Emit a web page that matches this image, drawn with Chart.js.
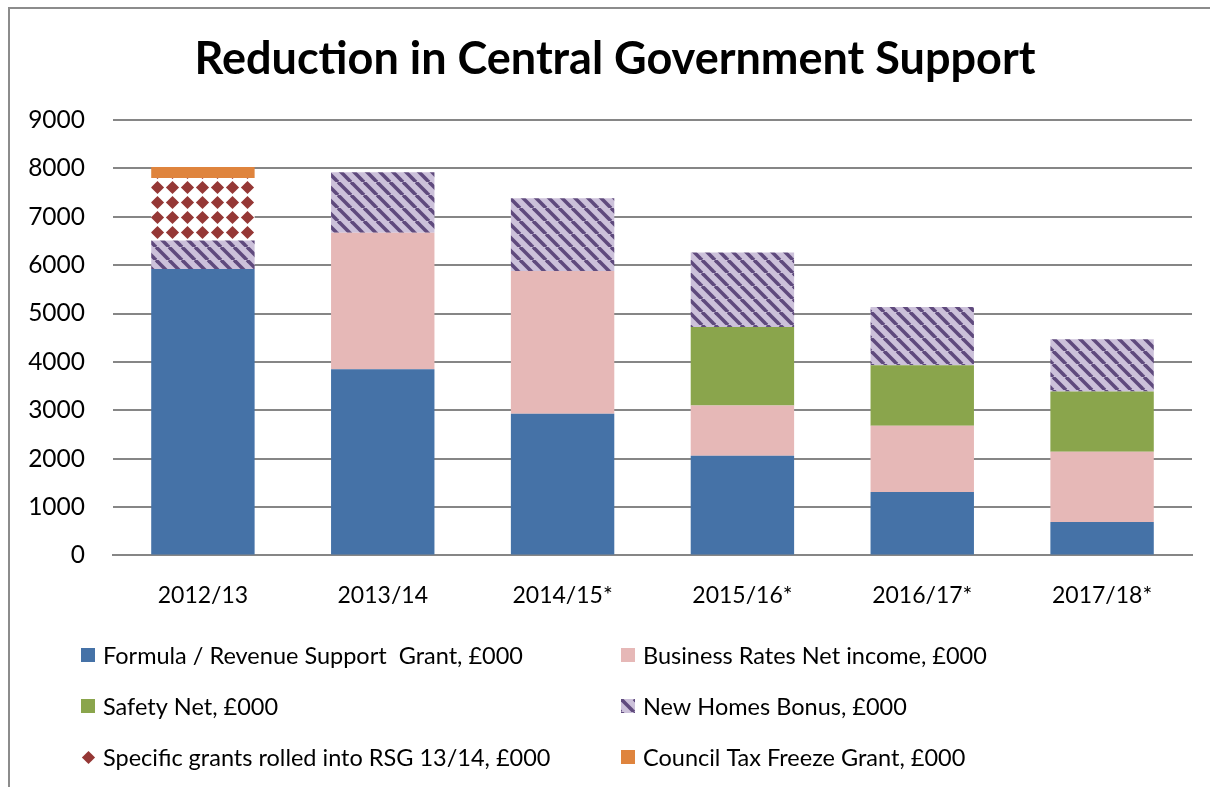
<!DOCTYPE html>
<html>
<head>
<meta charset="utf-8">
<script src="https://cdn.jsdelivr.net/npm/chart.js@4.4.1/dist/chart.umd.min.js"></script>
<style>
  html, body { margin: 0; padding: 0; background: #fff; overflow: hidden; }
  #wrap { position: relative; width: 1210px; height: 787px; }
  #frame { position: absolute; left: 8px; top: 7px; width: 1400px; height: 1000px;
           border-left: 2px solid #8c8c8c; border-top: 2px solid #8c8c8c; }
  canvas { position: absolute; left: 0; top: 0; }
</style>
</head>
<body>
<div id="wrap">
  <div id="frame"></div>
  <canvas id="chartSupport" width="1210" height="787"></canvas>
</div>
<script>
// values in £000
const years = ['2012/13', '2013/14', '2014/15*', '2015/16*', '2016/17*', '2017/18*'];
const formulaGrant = [5920, 3850, 2930, 2060, 1310, 690];
const businessRates = [0, 2820, 2950, 1040, 1370, 1450];
const safetyNet = [0, 0, 0, 1620, 1250, 1250];
const newHomesBonus = [590, 1250, 1500, 1540, 1205, 1080];
const specificGrants = [1290, 0, 0, 0, 0, 0];
const councilTaxFreeze = [230, 0, 0, 0, 0, 0];
const yTicks = [0, 1000, 2000, 3000, 4000, 5000, 6000, 7000, 8000, 9000];

const TITLE = 'Reduction in Central Government Support';
const FONT = 'Lato, "Liberation Sans", sans-serif';

/**
 * Diagonal stripe fill (Excel "wide downward diagonal")
 */
function stripePattern() {
  const size = 13;
  const c = document.createElement('canvas');
  c.width = size; c.height = size;
  const g = c.getContext('2d');
  g.fillStyle = '#ccc1da';
  g.fillRect(0, 0, size, size);
  g.strokeStyle = '#5f4a7d';
  g.lineWidth = 3.6;
  for (const off of [-size, 0, size]) {
    g.beginPath();
    g.moveTo(off, 0);
    g.lineTo(off + size, size);
    g.stroke();
  }
  return g.createPattern(c, 'repeat');
}

/**
 * Diamond grid fill
 */
function diamondPattern() {
  const size = 15;
  const c = document.createElement('canvas');
  c.width = size; c.height = size;
  const g = c.getContext('2d');
  g.fillStyle = '#ffffff';
  g.fillRect(0, 0, size, size);
  g.fillStyle = '#953735';
  const cx = size / 2, cy = size / 2, r = 6.6;
  g.beginPath();
  g.moveTo(cx, cy - r);
  g.lineTo(cx + r, cy);
  g.lineTo(cx, cy + r);
  g.lineTo(cx - r, cy);
  g.closePath();
  g.fill();
  return g.createPattern(c, 'repeat');
}

// title centred on the whole frame, and a two-column legend under the plot
const frameText = {
  id: 'frameText',
  afterDraw(chart) {
    const ctx = chart.ctx;
    ctx.save();
    ctx.fillStyle = '#000';
    ctx.textAlign = 'center';
    ctx.textBaseline = 'middle';
    ctx.font = 'bold 45px ' + FONT;
    ctx.fillText(TITLE, 615, 59);

    const cols = [81, 621];
    const rows = [655, 706, 757];
    ctx.textAlign = 'left';
    ctx.font = '23.5px ' + FONT;
    chart.data.datasets.forEach((ds, i) => {
      const x = cols[i % 2];
      const y = rows[Math.floor(i / 2)];
      // shift so the fill pattern starts at the swatch corner
      ctx.save();
      ctx.translate(x, y - 7);
      ctx.fillStyle = ds.backgroundColor;
      ctx.fillRect(0, 0, 14, 14);
      ctx.restore();
      ctx.fillStyle = '#000';
      ctx.fillText(ds.label, x + 22, y + 1);
    });
    ctx.restore();
  }
};

const ctx = document.getElementById('chartSupport').getContext('2d');

new Chart(ctx, {
  type: 'bar',
  data: {
    labels: years,
    datasets: [
      { label: 'Formula / Revenue Support  Grant, £000', data: formulaGrant, backgroundColor: '#4572a7' },
      { label: 'Business Rates Net income, £000', data: businessRates, backgroundColor: '#e6b8b7' },
      { label: 'Safety Net, £000', data: safetyNet, backgroundColor: '#8aa54c' },
      { label: 'New Homes Bonus, £000', data: newHomesBonus, backgroundColor: stripePattern() },
      { label: 'Specific grants rolled into RSG 13/14, £000', data: specificGrants, backgroundColor: diamondPattern() },
      { label: 'Council Tax Freeze Grant, £000', data: councilTaxFreeze, backgroundColor: '#df843d' }
    ]
  },
  options: {
    responsive: false,
    animation: false,
    devicePixelRatio: 1,
    layout: { padding: { left: 4, right: 18, top: 120, bottom: 152 } },
    datasets: {
      bar: { categoryPercentage: 1, barPercentage: 0.575, borderWidth: 0 }
    },
    plugins: {
      legend: { display: false },
      tooltip: { enabled: false },
      title: { display: false }
    },
    scales: {
      x: {
        stacked: true,
        grid: { display: false, drawTicks: false },
        border: { display: true, color: '#868686', width: 2 },
        ticks: { color: '#000', font: { family: FONT, size: 23 }, padding: 26 }
      },
      y: {
        stacked: true,
        min: 0,
        max: 9000,
        afterBuildTicks: axis => { axis.ticks = yTicks.map(v => ({ value: v })); },
        afterFit: axis => { axis.width = 109; },
        grid: { color: '#868686', lineWidth: 2, drawTicks: false },
        border: { display: false },
        ticks: { color: '#000', font: { family: FONT, size: 24.5 }, padding: 28, callback: v => String(v) }
      }
    }
  },
  plugins: [frameText]
});
</script>
</body>
</html>
